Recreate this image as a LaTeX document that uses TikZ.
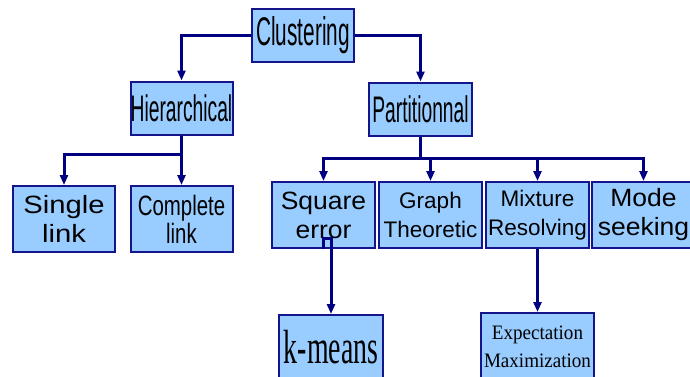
\documentclass[tikz,border=0pt]{standalone}
\usepackage{fontspec}
\usetikzlibrary{arrows.meta}
\newfontfamily\narrowsf[FakeStretch=0.52]{Liberation Sans}
\newfontfamily\halfsf[FakeStretch=0.73]{Liberation Sans}
\newfontfamily\widesf[FakeStretch=1.17]{Liberation Sans}
\newfontfamily\plainsf[FakeStretch=1.06]{Liberation Sans}
\newfontfamily\smallsf{Liberation Sans}
\newfontfamily\narrowrm[FakeStretch=0.58]{Liberation Serif}
\newfontfamily\plainrm[FakeStretch=0.93]{Liberation Serif}
\definecolor{boxfill}{HTML}{99CCFF}
\definecolor{boxline}{RGB}{20,20,140}
\definecolor{linecol}{RGB}{0,0,128}
\begin{document}
\begin{tikzpicture}[x=1pt,y=-1pt,
  box/.style={draw=boxline,line width=2pt,fill=boxfill,inner sep=0pt,
    align=center,minimum width=102pt,minimum height=66pt},
  head/.style={box,minimum height=53pt,font=\narrowsf\fontsize{37}{44}\selectfont},
  leaf/.style={box,font=\plainsf\fontsize{25}{29}\selectfont},
  arr/.style={draw=linecol,line width=3pt,-{Triangle[width=8pt,length=10pt]}},
  wire/.style={draw=linecol,line width=3pt}]
  \useasboundingbox (0,0) rectangle (690,376);

  % top levels
  \node[head,font=\narrowsf\fontsize{40}{48}\selectfont] (clustering) at (303,35) {Clustering};
  \node[head] (hier) at (181.5,108) {Hierarchical};
  \node[head,minimum width=103pt] (part) at (420.5,109) {Partitionnal};

  % hierarchical side
  \node[leaf,font=\widesf\fontsize{25}{29}\selectfont] (single) at (64,219) {Single\\link};
  \node[leaf,font=\halfsf\fontsize{28}{28}\selectfont] (complete) at (181.5,219) {Complete\\link};

  % partitional side
  \node[leaf,minimum width=103pt] (square) at (323.5,215) {Square\\error};
  \node[leaf,minimum width=103pt,font=\smallsf\fontsize{22.5}{29}\selectfont] (graph) at (430.5,215) {Graph\\Theoretic};
  \node[leaf,minimum width=103pt,font=\smallsf\fontsize{22.5}{29}\selectfont] (mixture) at (537.5,215) {Mixture\\Resolving};
  \node[leaf,minimum width=103pt] (mode) at (643.5,215) {Mode\\seeking};

  % bottom row
  \node[box,minimum width=104pt,minimum height=64pt,font=\narrowrm\fontsize{48}{48}\selectfont] (kmeans) at (331,347) {k-means};
  \node[box,minimum width=113pt,minimum height=67pt,font=\plainrm\fontsize{20.5}{28}\selectfont] (em) at (537.5,346.5) {Expectation\\Maximization};

  \coordinate (hb) at (181.5,154);
  \coordinate (pb) at (420.5,158);

  \draw[arr] (clustering.west) -| (hier.north);
  \draw[arr] (clustering.east) -| (part.north);
  \draw[wire] (hier.south) -- (hb);
  \draw[arr] (hb) -| (single.north);
  \draw[arr] (hb) -- (complete.north);
  \draw[wire] (part.south) -- (pb);
  \foreach \n in {square,graph,mixture,mode}
    \draw[arr] (pb) -| (\n.north);
  \draw[arr] (square.south) -- ++(0,-11) -| (kmeans.north);
  \draw[arr] (mixture.south) -- (em.north);
\end{tikzpicture}
\end{document}
